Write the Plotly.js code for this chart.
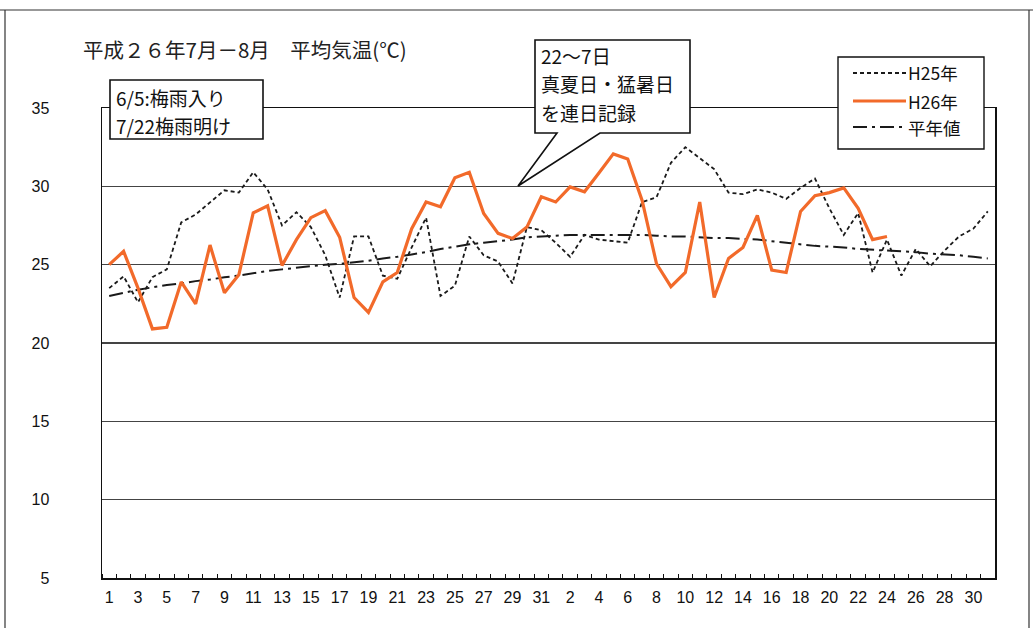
<!DOCTYPE html>
<html>
<head>
<meta charset="utf-8">
<script src="https://cdn.plot.ly/plotly-3.0.1.min.js"></script>
<style>
html,body{margin:0;padding:0;background:#fff;}
#chart{width:1033px;height:628px;}
</style>
</head>
<body>
<div id="chart"></div>
<script>
// Day index 1..62 = Jul 1..31, Aug 1..31
const dayLabels = ["1","3","5","7","9","11","13","15","17","19","21","23","25","27","29","31",
                   "2","4","6","8","10","12","14","16","18","20","22","24","26","28","30"];

const h25 = [23.5,24.25,22.6,24.2,24.7,27.7,28.2,28.95,29.75,29.6,30.9,29.8,27.5,28.35,27.4,25.6,22.9,26.8,26.8,24.3,
             24.1,26.1,28.0,23.0,23.65,26.8,25.6,25.2,23.8,27.4,27.2,
             26.4,25.5,26.9,26.6,26.5,26.4,29.0,29.3,31.5,32.5,31.8,31.1,29.6,29.5,29.8,29.6,29.2,29.9,30.5,
             28.6,26.9,28.3,24.5,26.6,24.3,26.0,24.9,25.9,26.8,27.3,28.4];

const h26 = [25.0,25.85,23.5,20.9,21.0,23.9,22.5,26.25,23.2,24.35,28.3,28.75,24.95,26.6,28.0,28.45,26.75,22.9,21.95,23.9,
             24.5,27.3,29.0,28.7,30.55,30.9,28.27,27.0,26.67,27.4,29.33,
             29.0,29.96,29.65,30.85,32.07,31.75,29.1,25.06,23.6,24.5,29.0,22.9,25.4,26.1,28.15,24.65,24.5,28.4,29.4,
             29.6,29.9,28.6,26.6,26.8];

const normal = [23.0,23.2,23.4,23.55,23.7,23.8,23.95,24.05,24.2,24.3,24.45,24.6,24.7,24.8,24.9,25.0,25.05,25.15,25.25,25.4,
                25.5,25.65,25.8,26.0,26.15,26.3,26.4,26.5,26.6,26.75,26.8,
                26.85,26.9,26.9,26.9,26.9,26.9,26.9,26.85,26.8,26.8,26.75,26.7,26.7,26.65,26.6,26.5,26.4,26.3,26.2,
                26.15,26.1,26.0,25.95,25.9,25.85,25.8,25.7,25.65,25.6,25.5,25.4];

const seriesNames = ["H25年","H26年","平年値"];
const titleText = "平成２６年7月－8月　平均気温(℃)";
const note1 = ["6/5:梅雨入り","7/22梅雨明け"];
const note2 = ["22～7日","真夏日・猛暑日","を連日記録"];

const idx = n => Array.from({length:n},(_,i)=>i+1);
const tickVals = dayLabels.map((_,i)=>1+2*i);

// pixel -> paper helpers (plot area 102..995 x 108..578)
const L=102, R=995, T=108, B=578;
const px = X => (X-L)/(R-L);
const py = Y => (B-Y)/(B-T);

const JP = "Noto Sans CJK JP, sans-serif";
const orange = "#F26A2A";
const dashH25 = "4px,3px";
const dashNormal = "14px,5px,3px,5px";

const traces = [
  {x: idx(h25.length), y: h25, name: seriesNames[0], type:"scatter", mode:"lines",
   line:{color:"#1a1a1a", width:1.8, dash:dashH25}},
  {x: idx(normal.length), y: normal, name: seriesNames[2], type:"scatter", mode:"lines",
   line:{color:"#1a1a1a", width:2, dash:dashNormal}},
  {x: idx(h26.length), y: h26, name: seriesNames[1], type:"scatter", mode:"lines",
   line:{color:orange, width:3.2}}
];

const shapes = [];
const annotations = [];

// outer frame
shapes.push({type:"line", xref:"paper", yref:"paper", x0:px(0), x1:px(1033), y0:py(10), y1:py(10), line:{color:"#333", width:1.2}});
shapes.push({type:"line", xref:"paper", yref:"paper", x0:px(5), x1:px(5), y0:py(10), y1:py(640), line:{color:"#333", width:1.2}});
shapes.push({type:"line", xref:"paper", yref:"paper", x0:px(1029), x1:px(1029), y0:py(10), y1:py(640), line:{color:"#333", width:1.2}});

// note box 1
shapes.push({type:"rect", xref:"paper", yref:"paper", layer:"above",
  x0:px(110), x1:px(263), y0:py(139), y1:py(80), fillcolor:"#fff", line:{color:"#111", width:1.6}});
note1.forEach((t,i)=>annotations.push({xref:"paper", yref:"paper", x:px(114), y:py(97+28*i),
  xanchor:"left", yanchor:"middle", showarrow:false, text:t, font:{family:JP, size:19, color:"#111"}}));

// callout box 2
const cp = [[535,40],[690,40],[690,133],[600,133],[518,186],[557,133],[535,133]];
let d = "M " + cp.map(p=>px(p[0]).toFixed(5)+","+py(p[1]).toFixed(5)).join(" L ") + " Z";
shapes.push({type:"path", xref:"paper", yref:"paper", layer:"above", path:d,
  fillcolor:"#fff", line:{color:"#111", width:1.6}});
note2.forEach((t,i)=>annotations.push({xref:"paper", yref:"paper", x:px(539), y:py(55+28.5*i),
  xanchor:"left", yanchor:"middle", showarrow:false, text:t, font:{family:JP, size:19, color:"#111"}}));

// legend (drawn)
shapes.push({type:"rect", xref:"paper", yref:"paper", layer:"above",
  x0:px(838), x1:px(984), y0:py(149), y1:py(57), fillcolor:"#fff", line:{color:"#111", width:1.4}});
const legRows = [
  {y:73, name:seriesNames[0], line:{color:"#1a1a1a", width:1.8, dash:dashH25}},
  {y:101, name:seriesNames[1], line:{color:orange, width:3.2}},
  {y:127, name:seriesNames[2], line:{color:"#1a1a1a", width:2, dash:dashNormal}}
];
legRows.forEach(r=>{
  shapes.push({type:"line", xref:"paper", yref:"paper", layer:"above",
    x0:px(853), x1:px(906), y0:py(r.y), y1:py(r.y), line:r.line});
  annotations.push({xref:"paper", yref:"paper", x:px(906), y:py(r.y), xanchor:"left", yanchor:"middle",
    showarrow:false, text:r.name, font:{family:JP, size:17.5, color:"#111"}});
});

// title
annotations.push({xref:"paper", yref:"paper", x:px(81), y:py(49), xanchor:"left", yanchor:"middle",
  showarrow:false, text:titleText, font:{family:JP, size:20.5, color:"#222"}});

const layout = {
  width:1033, height:628,
  margin:{l:L, r:1033-R, t:T, b:628-B},
  paper_bgcolor:"#fff", plot_bgcolor:"#fff",
  showlegend:false,
  xaxis:{
    range:[0.5,62.5], tickmode:"array", tickvals:tickVals, ticktext:dayLabels,
    ticks:"", showgrid:false, zeroline:false,
    showline:true, mirror:true, linecolor:"#111", linewidth:1.5,
    tickfont:{family:"Liberation Sans, Arial, sans-serif", size:16, color:"#111"},
    ticklabelstandoff:4,
    minor:{tickmode:"linear", tick0:0.5, dtick:1, ticks:"inside", ticklen:4, tickcolor:"#111", tickwidth:1, showgrid:false}
  },
  yaxis:{
    range:[5,35], tickmode:"linear", tick0:5, dtick:5,
    ticks:"", showgrid:true, gridcolor:"#444", gridwidth:1.1, zeroline:false,
    showline:true, mirror:true, linecolor:"#111", linewidth:1.5,
    tickfont:{family:"Liberation Sans, Arial, sans-serif", size:16, color:"#111"},
    ticklabelstandoff:48
  },
  shapes:shapes,
  annotations:annotations
};

Plotly.newPlot("chart", traces, layout, {displayModeBar:false, staticPlot:true});
</script>
</body>
</html>
